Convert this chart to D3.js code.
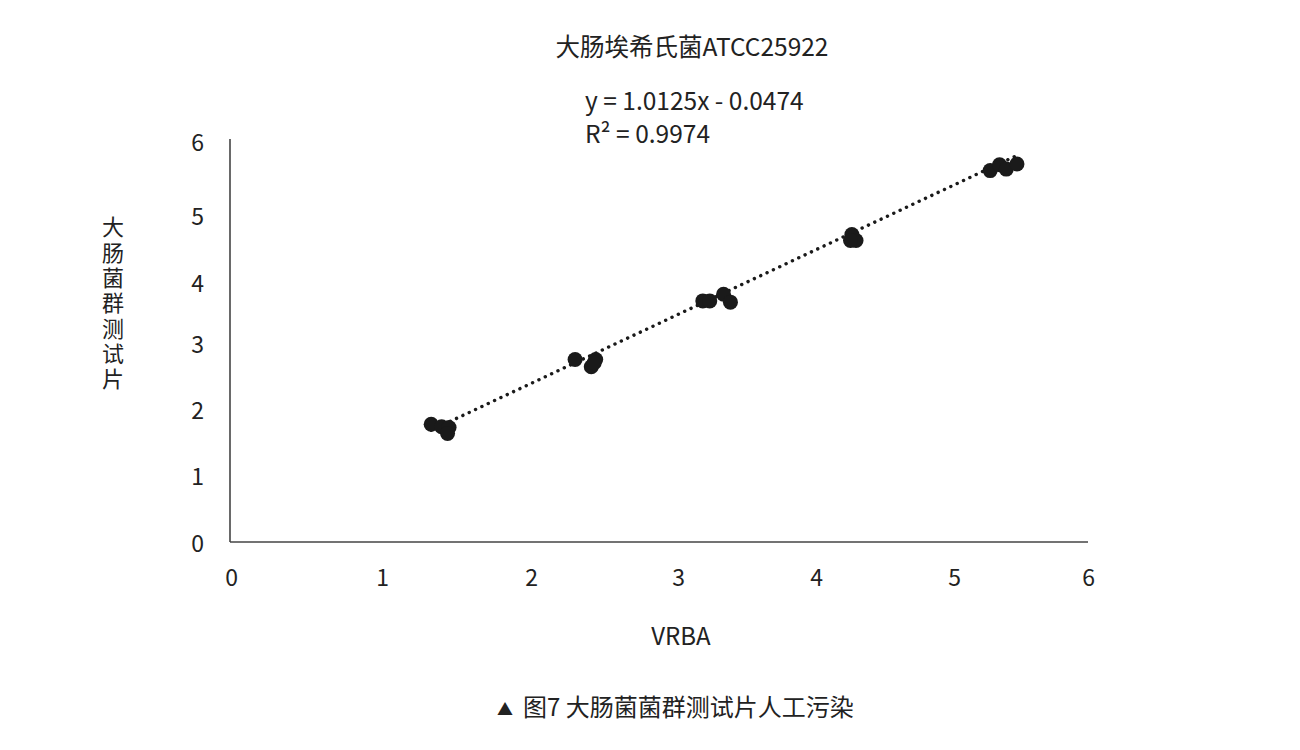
<!DOCTYPE html>
<html>
<head>
<meta charset="utf-8">
<script src="https://cdn.jsdelivr.net/npm/d3@7"></script>
<style>
  html, body { margin: 0; padding: 0; background: #fff; }
  svg { display: block; font-family: "Noto Sans CJK SC", "Noto Sans", sans-serif; }
</style>
</head>
<body>
<svg id="chart" width="1300" height="750"></svg>
<script>
// ---- data ----
const xValues = [1.33, 1.40, 1.45, 1.44,  2.30, 2.44, 2.41, 2.43,  3.18, 3.23, 3.33, 3.38,  4.26, 4.29, 4.25,  5.27, 5.34, 5.39, 5.47];
const yValues = [1.77, 1.73, 1.72, 1.63,  2.75, 2.75, 2.64, 2.70,  3.69, 3.69, 3.80, 3.67,  4.71, 4.62, 4.62,  5.60, 5.68, 5.62, 5.69];
const xTicks = [0, 1, 2, 3, 4, 5, 6];
const yTicks = [0, 1, 2, 3, 4, 5, 6];
const titleText = "大肠埃希氏菌ATCC25922";
const equationText = "y = 1.0125x - 0.0474";
const r2Label = "R² = 0.9974";
const xTitle = "VRBA";
const yTitle = "大肠菌群测试片";
const captionMark = "▲";
const captionText = "图7 大肠菌菌群测试片人工污染";

const svg = d3.select("#chart");
const textColor = "#222";
const fontFam = "'Noto Sans CJK SC', 'Noto Sans', sans-serif";

// scales (tick positions as laid out in the reference picture)
const x = d3.scaleLinear().domain(xTicks).range([231, 382, 531, 678, 816, 954, 1088]);
const y = d3.scaleLinear().domain(yTicks).range([542, 475, 409, 343, 282, 215, 141]);

// axes
const xAxis = d3.axisBottom(x).tickValues(xTicks).tickSize(0).tickPadding(28).tickFormat(d3.format("d"));
const yAxis = d3.axisLeft(y).tickValues(yTicks).tickSize(0).tickPadding(26).tickFormat(d3.format("d"));

const gx = svg.append("g").attr("transform", `translate(0,${y(0)})`).call(xAxis);
const gy = svg.append("g").attr("transform", `translate(${x(0) - 1},0)`).call(yAxis);
[gx, gy].forEach(g => {
  g.select(".domain").attr("stroke", "#444").attr("stroke-width", 1.6);
  g.selectAll("text").attr("font-size", 23).attr("fill", textColor).attr("font-family", fontFam);
});
gx.select(".domain").attr("d", `M${x(0) - 1},0H${x(6)}`);
gy.select(".domain").attr("d", `M0,${y(0)}V${y(6) - 2}`);
gy.selectAll(".tick text").attr("dy", "0.4em");

// trendline: least squares fit of the points, drawn across the data range
const n = xValues.length;
const mx = d3.mean(xValues), my = d3.mean(yValues);
let sxy = 0, sxx = 0;
for (let i = 0; i < n; i++) { sxy += (xValues[i] - mx) * (yValues[i] - my); sxx += (xValues[i] - mx) ** 2; }
const slope = sxy / sxx, intercept = my - slope * mx;
const x0 = d3.min(xValues), x1 = d3.max(xValues);
svg.append("line")
  .attr("x1", x(x0)).attr("y1", y(slope * x0 + intercept))
  .attr("x2", x(x1)).attr("y2", y(slope * x1 + intercept))
  .attr("stroke", "#1a1a1a").attr("stroke-width", 3.4)
  .attr("stroke-linecap", "round").attr("stroke-dasharray", "0.1,6.9");

// points
svg.append("g").selectAll("circle")
  .data(xValues.map((v, i) => [v, yValues[i]]))
  .join("circle")
  .attr("cx", d => x(d[0])).attr("cy", d => y(d[1]))
  .attr("r", 7.5).attr("fill", "#1a1a1a");

// title
svg.append("text").attr("x", 692).attr("y", 56).attr("text-anchor", "middle")
  .attr("font-size", 24.5).attr("fill", textColor).text(titleText);

// equation
svg.append("text").attr("x", 585).attr("y", 110)
  .attr("font-size", 24.5).attr("fill", textColor).text(equationText);
svg.append("text").attr("x", 585).attr("y", 143)
  .attr("font-size", 24.5).attr("fill", textColor).text(r2Label);

// axis titles
svg.append("text").attr("x", 681).attr("y", 645).attr("text-anchor", "middle")
  .attr("font-size", 24).attr("fill", textColor).text(xTitle);

svg.append("text")
  .attr("x", 113).attr("y", 216)
  .attr("writing-mode", "vertical-rl")
  .style("text-orientation", "upright")
  .attr("letter-spacing", 3.3)
  .attr("font-size", 22).attr("fill", textColor).text(yTitle);

// caption
const cap = svg.append("text").attr("x", 497).attr("y", 716)
  .attr("font-size", 24).attr("fill", textColor);
cap.append("tspan").attr("font-size", 16).attr("dy", -1).text(captionMark);
cap.append("tspan").attr("x", 523).attr("dy", 1).text(captionText);
</script>
</body>
</html>
